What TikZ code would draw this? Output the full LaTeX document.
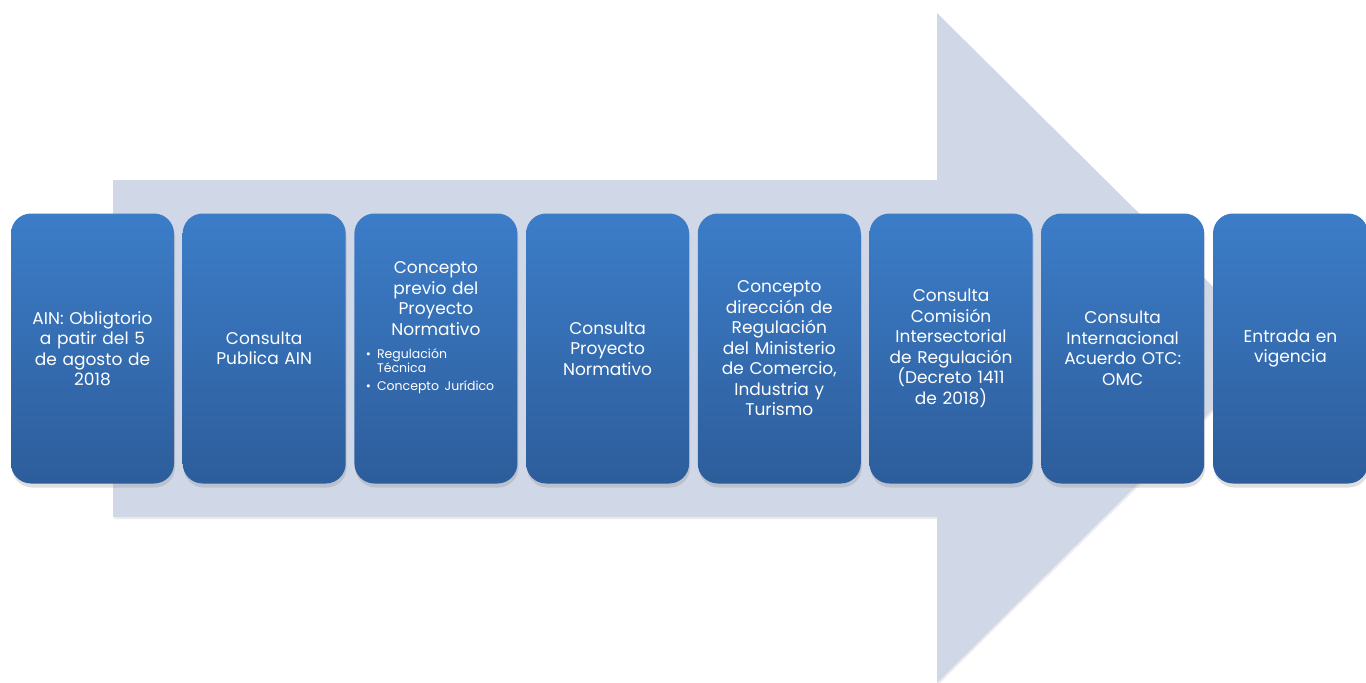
\documentclass[tikz,border=0pt]{standalone}
\usepackage{fontspec}
\setmainfont{Poppins}
\usetikzlibrary{shadows}
\definecolor{arrowfill}{RGB}{208,216,232}
\definecolor{boxtop}{RGB}{60,125,200}
\definecolor{boxbottom}{RGB}{45,93,155}
\tikzset{
  stepbox/.style={rounded corners=20pt, top color=boxtop, bottom color=boxbottom,
    minimum width=163pt, minimum height=270pt, text width=150pt, inner sep=0pt,
    align=center, text=white, font=\fontsize{17}{20.5}\selectfont,
    drop shadow={shadow xshift=1pt, shadow yshift=-4pt, opacity=0.25}},
  boxtext/.style={text width=150pt, inner sep=0pt, align=center, text=white,
    font=\fontsize{17}{20.5}\selectfont}
}
\begin{document}
\begin{tikzpicture}[x=1pt,y=-1pt]
      \useasboundingbox (0,0) rectangle (1366,683);
      % big arrow behind the steps
      \fill[arrowfill, drop shadow={shadow xshift=1pt, shadow yshift=-2pt, opacity=0.15}]
        (113,180) -- (937,180) -- (937,13) -- (1275,348) -- (937,683)
        -- (937,517) -- (113,517) -- cycle;
      % steps
      \node[stepbox] (s1) at (92.5,348.5) {AIN: Obligtorio\\a patir del 5\\de agosto de\\2018};
      \node[stepbox] (s2) at (264.2,348.5) {Consulta\\Publica AIN};
      \node[stepbox] (s3) at (435.9,348.5) {};
      \node[stepbox] (s4) at (607.6,348.5) {Consulta\\Proyecto\\Normativo};
      \node[stepbox] (s5) at (779.3,348.5) {Concepto\\dirección de\\Regulación\\del Ministerio\\de Comercio,\\Industria y\\Turismo};
      \node[stepbox] (s6) at (951.0,348.5) {Consulta\\Comisión\\Intersectorial\\de Regulación\\(Decreto 1411\\de 2018)};
      \node[stepbox] (s7) at (1122.7,348.5) {Consulta\\Internacional\\Acuerdo OTC:\\OMC};
      \node[stepbox, minimum width=155pt, text width=145pt] (s8) at (1290.5,348.5) {Entrada en\\vigencia};
      % text of step 3 with its list
      \node[boxtext] (s3text) at (435.9,328) {Concepto\\previo del\\Proyecto\\Normativo\\[12pt]
        {\fontsize{12.5}{14}\selectfont
        \begin{tabular}{@{\hspace{5pt}}l@{\hspace{6pt}}p{134pt}@{}}
          \textbullet & \raggedright Regulación\newline Técnica\tabularnewline[4pt]
          \textbullet & \raggedright Concepto Jurídico\tabularnewline
        \end{tabular}}};
    \end{tikzpicture}
\end{document}
